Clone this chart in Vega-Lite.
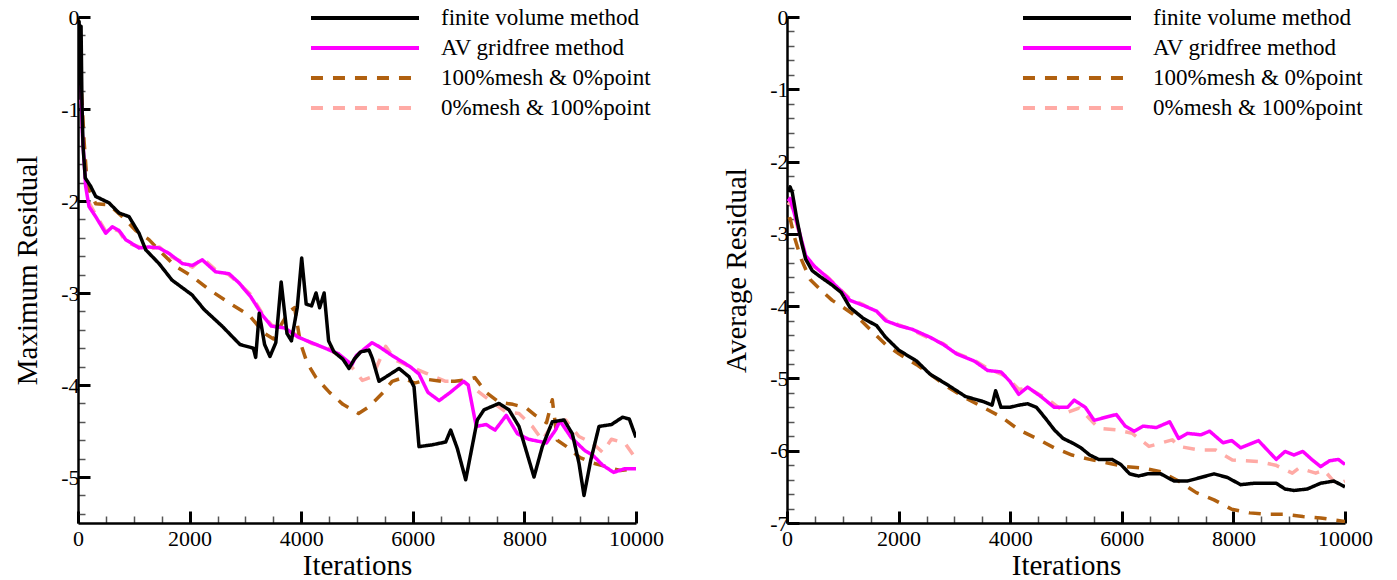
{
"$schema": "https://vega.github.io/schema/vega-lite/v6.json",
"background": "white",
"padding": {"left": 13, "top": 5, "right": 5, "bottom": 0},
"config": {
 "font": "Liberation Serif",
 "view": {"stroke": null},
 "axis": {"domainColor": "black", "domainWidth": 2.5, "labelFont": "Liberation Serif", "labelFontSize": 22, "labelColor": "black", "titleFont": "Liberation Serif", "titleFontSize": 29, "titleFontWeight": "normal", "titleColor": "black", "grid": false, "labelOverlap": false, "labelFlush": false, "labelBound": false},
 "legend": {"title": null, "symbolType": "M-5,0H5", "symbolSize": 467, "symbolStrokeWidth": 4, "labelFont": "Liberation Serif", "labelFontSize": 23, "labelColor": "black", "labelOffset": 63, "rowPadding": 5, "padding": 0, "labelLimit": 400}
},
"datasets": {
 "maxres": [
  {"s":"0%mesh & 100%point","x":0,"y":-0.65},{"s":"0%mesh & 100%point","x":45,"y":-0.62},{"s":"0%mesh & 100%point","x":80,"y":-1.2},{"s":"0%mesh & 100%point","x":140,"y":-1.8},{"s":"0%mesh & 100%point","x":200,"y":-2.02},{"s":"0%mesh & 100%point","x":320,"y":-2.15},{"s":"0%mesh & 100%point","x":500,"y":-2.33},{"s":"0%mesh & 100%point","x":620,"y":-2.3},{"s":"0%mesh & 100%point","x":740,"y":-2.33},{"s":"0%mesh & 100%point","x":860,"y":-2.45},{"s":"0%mesh & 100%point","x":1100,"y":-2.5},{"s":"0%mesh & 100%point","x":1280,"y":-2.52},{"s":"0%mesh & 100%point","x":1460,"y":-2.5},{"s":"0%mesh & 100%point","x":1640,"y":-2.6},{"s":"0%mesh & 100%point","x":1870,"y":-2.66},{"s":"0%mesh & 100%point","x":2050,"y":-2.72},{"s":"0%mesh & 100%point","x":2230,"y":-2.62},{"s":"0%mesh & 100%point","x":2470,"y":-2.75},{"s":"0%mesh & 100%point","x":2700,"y":-2.8},{"s":"0%mesh & 100%point","x":2890,"y":-2.9},{"s":"0%mesh & 100%point","x":3100,"y":-3.02},{"s":"0%mesh & 100%point","x":3300,"y":-3.22},{"s":"0%mesh & 100%point","x":3470,"y":-3.35},{"s":"0%mesh & 100%point","x":3700,"y":-3.4},{"s":"0%mesh & 100%point","x":3950,"y":-3.46},{"s":"0%mesh & 100%point","x":4190,"y":-3.55},{"s":"0%mesh & 100%point","x":4430,"y":-3.58},{"s":"0%mesh & 100%point","x":4670,"y":-3.68},{"s":"0%mesh & 100%point","x":4900,"y":-3.8},{"s":"0%mesh & 100%point","x":5096,"y":-3.95},{"s":"0%mesh & 100%point","x":5275,"y":-3.91},{"s":"0%mesh & 100%point","x":5514,"y":-3.58},{"s":"0%mesh & 100%point","x":5693,"y":-3.73},{"s":"0%mesh & 100%point","x":5873,"y":-3.78},{"s":"0%mesh & 100%point","x":6231,"y":-3.87},{"s":"0%mesh & 100%point","x":6589,"y":-3.96},{"s":"0%mesh & 100%point","x":6888,"y":-3.96},{"s":"0%mesh & 100%point","x":7127,"y":-4.05},{"s":"0%mesh & 100%point","x":7366,"y":-4.16},{"s":"0%mesh & 100%point","x":7664,"y":-4.29},{"s":"0%mesh & 100%point","x":7903,"y":-4.31},{"s":"0%mesh & 100%point","x":8142,"y":-4.45},{"s":"0%mesh & 100%point","x":8321,"y":-4.6},{"s":"0%mesh & 100%point","x":8500,"y":-4.43},{"s":"0%mesh & 100%point","x":8739,"y":-4.38},{"s":"0%mesh & 100%point","x":8978,"y":-4.56},{"s":"0%mesh & 100%point","x":9217,"y":-4.63},{"s":"0%mesh & 100%point","x":9399,"y":-4.73},{"s":"0%mesh & 100%point","x":9559,"y":-4.59},{"s":"0%mesh & 100%point","x":9799,"y":-4.63},{"s":"0%mesh & 100%point","x":9960,"y":-4.77},
  {"s":"100%mesh & 0%point","x":0,"y":-0.6},{"s":"100%mesh & 0%point","x":48,"y":-0.65},{"s":"100%mesh & 0%point","x":108,"y":-1.34},{"s":"100%mesh & 0%point","x":167,"y":-1.84},{"s":"100%mesh & 0%point","x":317,"y":-2.03},{"s":"100%mesh & 0%point","x":555,"y":-2.04},{"s":"100%mesh & 0%point","x":794,"y":-2.17},{"s":"100%mesh & 0%point","x":1034,"y":-2.32},{"s":"100%mesh & 0%point","x":1272,"y":-2.42},{"s":"100%mesh & 0%point","x":1511,"y":-2.57},{"s":"100%mesh & 0%point","x":1750,"y":-2.71},{"s":"100%mesh & 0%point","x":2049,"y":-2.82},{"s":"100%mesh & 0%point","x":2342,"y":-2.96},{"s":"100%mesh & 0%point","x":2742,"y":-3.12},{"s":"100%mesh & 0%point","x":3063,"y":-3.24},{"s":"100%mesh & 0%point","x":3344,"y":-3.44},{"s":"100%mesh & 0%point","x":3504,"y":-3.5},{"s":"100%mesh & 0%point","x":3665,"y":-3.32},{"s":"100%mesh & 0%point","x":3785,"y":-3.2},{"s":"100%mesh & 0%point","x":3881,"y":-3.16},{"s":"100%mesh & 0%point","x":3985,"y":-3.54},{"s":"100%mesh & 0%point","x":4106,"y":-3.76},{"s":"100%mesh & 0%point","x":4266,"y":-3.92},{"s":"100%mesh & 0%point","x":4507,"y":-4.08},{"s":"100%mesh & 0%point","x":4747,"y":-4.21},{"s":"100%mesh & 0%point","x":5028,"y":-4.31},{"s":"100%mesh & 0%point","x":5229,"y":-4.23},{"s":"100%mesh & 0%point","x":5469,"y":-4.08},{"s":"100%mesh & 0%point","x":5630,"y":-3.96},{"s":"100%mesh & 0%point","x":5830,"y":-3.92},{"s":"100%mesh & 0%point","x":6030,"y":-3.98},{"s":"100%mesh & 0%point","x":6271,"y":-3.94},{"s":"100%mesh & 0%point","x":6512,"y":-3.96},{"s":"100%mesh & 0%point","x":6752,"y":-3.96},{"s":"100%mesh & 0%point","x":6993,"y":-3.94},{"s":"100%mesh & 0%point","x":7113,"y":-3.92},{"s":"100%mesh & 0%point","x":7314,"y":-4.08},{"s":"100%mesh & 0%point","x":7554,"y":-4.19},{"s":"100%mesh & 0%point","x":7795,"y":-4.21},{"s":"100%mesh & 0%point","x":8035,"y":-4.25},{"s":"100%mesh & 0%point","x":8196,"y":-4.33},{"s":"100%mesh & 0%point","x":8396,"y":-4.41},{"s":"100%mesh & 0%point","x":8500,"y":-4.16},{"s":"100%mesh & 0%point","x":8590,"y":-4.6},{"s":"100%mesh & 0%point","x":8757,"y":-4.67},{"s":"100%mesh & 0%point","x":8998,"y":-4.79},{"s":"100%mesh & 0%point","x":9238,"y":-4.85},{"s":"100%mesh & 0%point","x":9479,"y":-4.89},{"s":"100%mesh & 0%point","x":9719,"y":-4.93},{"s":"100%mesh & 0%point","x":9960,"y":-4.91},
  {"s":"AV gridfree method","x":40,"y":-0.6},{"s":"AV gridfree method","x":60,"y":-0.9},{"s":"AV gridfree method","x":78,"y":-1.26},{"s":"AV gridfree method","x":137,"y":-1.84},{"s":"AV gridfree method","x":197,"y":-2.06},{"s":"AV gridfree method","x":317,"y":-2.17},{"s":"AV gridfree method","x":496,"y":-2.35},{"s":"AV gridfree method","x":615,"y":-2.28},{"s":"AV gridfree method","x":735,"y":-2.32},{"s":"AV gridfree method","x":855,"y":-2.42},{"s":"AV gridfree method","x":1093,"y":-2.51},{"s":"AV gridfree method","x":1272,"y":-2.5},{"s":"AV gridfree method","x":1452,"y":-2.51},{"s":"AV gridfree method","x":1631,"y":-2.57},{"s":"AV gridfree method","x":1870,"y":-2.68},{"s":"AV gridfree method","x":2049,"y":-2.7},{"s":"AV gridfree method","x":2228,"y":-2.64},{"s":"AV gridfree method","x":2467,"y":-2.77},{"s":"AV gridfree method","x":2706,"y":-2.79},{"s":"AV gridfree method","x":2885,"y":-2.89},{"s":"AV gridfree method","x":3095,"y":-3.04},{"s":"AV gridfree method","x":3304,"y":-3.24},{"s":"AV gridfree method","x":3464,"y":-3.36},{"s":"AV gridfree method","x":3705,"y":-3.38},{"s":"AV gridfree method","x":3945,"y":-3.48},{"s":"AV gridfree method","x":4186,"y":-3.54},{"s":"AV gridfree method","x":4427,"y":-3.6},{"s":"AV gridfree method","x":4667,"y":-3.66},{"s":"AV gridfree method","x":4908,"y":-3.78},{"s":"AV gridfree method","x":4988,"y":-3.68},{"s":"AV gridfree method","x":5269,"y":-3.54},{"s":"AV gridfree method","x":5389,"y":-3.58},{"s":"AV gridfree method","x":5630,"y":-3.68},{"s":"AV gridfree method","x":5950,"y":-3.8},{"s":"AV gridfree method","x":6111,"y":-3.88},{"s":"AV gridfree method","x":6271,"y":-4.08},{"s":"AV gridfree method","x":6472,"y":-4.17},{"s":"AV gridfree method","x":6672,"y":-4.08},{"s":"AV gridfree method","x":6913,"y":-3.96},{"s":"AV gridfree method","x":6993,"y":-4.0},{"s":"AV gridfree method","x":7137,"y":-4.45},{"s":"AV gridfree method","x":7314,"y":-4.43},{"s":"AV gridfree method","x":7474,"y":-4.49},{"s":"AV gridfree method","x":7675,"y":-4.33},{"s":"AV gridfree method","x":7875,"y":-4.53},{"s":"AV gridfree method","x":8075,"y":-4.59},{"s":"AV gridfree method","x":8236,"y":-4.61},{"s":"AV gridfree method","x":8396,"y":-4.63},{"s":"AV gridfree method","x":8557,"y":-4.49},{"s":"AV gridfree method","x":8637,"y":-4.39},{"s":"AV gridfree method","x":8837,"y":-4.57},{"s":"AV gridfree method","x":9078,"y":-4.71},{"s":"AV gridfree method","x":9238,"y":-4.77},{"s":"AV gridfree method","x":9399,"y":-4.87},{"s":"AV gridfree method","x":9599,"y":-4.95},{"s":"AV gridfree method","x":9799,"y":-4.91},{"s":"AV gridfree method","x":10000,"y":-4.91},
  {"s":"finite volume method","x":0,"y":-0.9},{"s":"finite volume method","x":20,"y":-0.05},{"s":"finite volume method","x":40,"y":-0.6},{"s":"finite volume method","x":55,"y":-0.1},{"s":"finite volume method","x":70,"y":-0.9},{"s":"finite volume method","x":90,"y":-1.4},{"s":"finite volume method","x":130,"y":-1.75},{"s":"finite volume method","x":227,"y":-1.84},{"s":"finite volume method","x":317,"y":-1.95},{"s":"finite volume method","x":555,"y":-2.02},{"s":"finite volume method","x":735,"y":-2.13},{"s":"finite volume method","x":914,"y":-2.17},{"s":"finite volume method","x":1093,"y":-2.35},{"s":"finite volume method","x":1213,"y":-2.53},{"s":"finite volume method","x":1452,"y":-2.68},{"s":"finite volume method","x":1685,"y":-2.86},{"s":"finite volume method","x":2043,"y":-3.02},{"s":"finite volume method","x":2261,"y":-3.18},{"s":"finite volume method","x":2582,"y":-3.36},{"s":"finite volume method","x":2903,"y":-3.56},{"s":"finite volume method","x":3143,"y":-3.6},{"s":"finite volume method","x":3184,"y":-3.7},{"s":"finite volume method","x":3248,"y":-3.22},{"s":"finite volume method","x":3344,"y":-3.56},{"s":"finite volume method","x":3440,"y":-3.69},{"s":"finite volume method","x":3545,"y":-3.54},{"s":"finite volume method","x":3641,"y":-2.88},{"s":"finite volume method","x":3745,"y":-3.44},{"s":"finite volume method","x":3825,"y":-3.52},{"s":"finite volume method","x":3929,"y":-3.16},{"s":"finite volume method","x":4009,"y":-2.62},{"s":"finite volume method","x":4089,"y":-3.12},{"s":"finite volume method","x":4186,"y":-3.14},{"s":"finite volume method","x":4266,"y":-3.0},{"s":"finite volume method","x":4330,"y":-3.16},{"s":"finite volume method","x":4411,"y":-3.0},{"s":"finite volume method","x":4491,"y":-3.52},{"s":"finite volume method","x":4587,"y":-3.64},{"s":"finite volume method","x":4747,"y":-3.72},{"s":"finite volume method","x":4857,"y":-3.82},{"s":"finite volume method","x":4950,"y":-3.72},{"s":"finite volume method","x":5066,"y":-3.64},{"s":"finite volume method","x":5215,"y":-3.62},{"s":"finite volume method","x":5275,"y":-3.71},{"s":"finite volume method","x":5394,"y":-3.96},{"s":"finite volume method","x":5549,"y":-3.9},{"s":"finite volume method","x":5753,"y":-3.82},{"s":"finite volume method","x":5932,"y":-3.91},{"s":"finite volume method","x":6022,"y":-4.02},{"s":"finite volume method","x":6111,"y":-4.67},{"s":"finite volume method","x":6350,"y":-4.65},{"s":"finite volume method","x":6589,"y":-4.62},{"s":"finite volume method","x":6679,"y":-4.49},{"s":"finite volume method","x":6798,"y":-4.69},{"s":"finite volume method","x":6948,"y":-5.03},{"s":"finite volume method","x":7156,"y":-4.38},{"s":"finite volume method","x":7276,"y":-4.27},{"s":"finite volume method","x":7545,"y":-4.2},{"s":"finite volume method","x":7724,"y":-4.27},{"s":"finite volume method","x":7903,"y":-4.45},{"s":"finite volume method","x":8172,"y":-5.0},{"s":"finite volume method","x":8321,"y":-4.67},{"s":"finite volume method","x":8500,"y":-4.4},{"s":"finite volume method","x":8710,"y":-4.38},{"s":"finite volume method","x":8859,"y":-4.53},{"s":"finite volume method","x":8978,"y":-4.85},{"s":"finite volume method","x":9068,"y":-5.2},{"s":"finite volume method","x":9188,"y":-4.82},{"s":"finite volume method","x":9337,"y":-4.45},{"s":"finite volume method","x":9559,"y":-4.43},{"s":"finite volume method","x":9759,"y":-4.35},{"s":"finite volume method","x":9880,"y":-4.37},{"s":"finite volume method","x":10000,"y":-4.57}
 ],
 "avgres": [
  {"s":"0%mesh & 100%point","x":20,"y":-2.6},{"s":"0%mesh & 100%point","x":60,"y":-2.55},{"s":"0%mesh & 100%point","x":175,"y":-2.86},{"s":"0%mesh & 100%point","x":334,"y":-3.32},{"s":"0%mesh & 100%point","x":493,"y":-3.46},{"s":"0%mesh & 100%point","x":732,"y":-3.6},{"s":"0%mesh & 100%point","x":971,"y":-3.78},{"s":"0%mesh & 100%point","x":1130,"y":-3.9},{"s":"0%mesh & 100%point","x":1368,"y":-3.98},{"s":"0%mesh & 100%point","x":1607,"y":-4.08},{"s":"0%mesh & 100%point","x":1766,"y":-4.18},{"s":"0%mesh & 100%point","x":2005,"y":-4.26},{"s":"0%mesh & 100%point","x":2243,"y":-4.33},{"s":"0%mesh & 100%point","x":2562,"y":-4.45},{"s":"0%mesh & 100%point","x":2801,"y":-4.52},{"s":"0%mesh & 100%point","x":3039,"y":-4.65},{"s":"0%mesh & 100%point","x":3357,"y":-4.75},{"s":"0%mesh & 100%point","x":3596,"y":-4.86},{"s":"0%mesh & 100%point","x":3919,"y":-4.97},{"s":"0%mesh & 100%point","x":4153,"y":-5.15},{"s":"0%mesh & 100%point","x":4337,"y":-5.14},{"s":"0%mesh & 100%point","x":4695,"y":-5.3},{"s":"0%mesh & 100%point","x":4994,"y":-5.48},{"s":"0%mesh & 100%point","x":5233,"y":-5.41},{"s":"0%mesh & 100%point","x":5591,"y":-5.69},{"s":"0%mesh & 100%point","x":5890,"y":-5.71},{"s":"0%mesh & 100%point","x":6188,"y":-5.76},{"s":"0%mesh & 100%point","x":6487,"y":-5.94},{"s":"0%mesh & 100%point","x":6905,"y":-5.85},{"s":"0%mesh & 100%point","x":7025,"y":-5.94},{"s":"0%mesh & 100%point","x":7384,"y":-5.99},{"s":"0%mesh & 100%point","x":7683,"y":-5.99},{"s":"0%mesh & 100%point","x":7981,"y":-6.13},{"s":"0%mesh & 100%point","x":8459,"y":-6.15},{"s":"0%mesh & 100%point","x":8758,"y":-6.2},{"s":"0%mesh & 100%point","x":9056,"y":-6.31},{"s":"0%mesh & 100%point","x":9176,"y":-6.24},{"s":"0%mesh & 100%point","x":9475,"y":-6.31},{"s":"0%mesh & 100%point","x":9624,"y":-6.27},{"s":"0%mesh & 100%point","x":9773,"y":-6.4},{"s":"0%mesh & 100%point","x":9862,"y":-6.47},{"s":"0%mesh & 100%point","x":10000,"y":-6.42},
  {"s":"100%mesh & 0%point","x":20,"y":-2.8},{"s":"100%mesh & 0%point","x":56,"y":-2.79},{"s":"100%mesh & 0%point","x":135,"y":-3.05},{"s":"100%mesh & 0%point","x":255,"y":-3.35},{"s":"100%mesh & 0%point","x":414,"y":-3.63},{"s":"100%mesh & 0%point","x":652,"y":-3.81},{"s":"100%mesh & 0%point","x":811,"y":-3.92},{"s":"100%mesh & 0%point","x":1050,"y":-4.04},{"s":"100%mesh & 0%point","x":1289,"y":-4.17},{"s":"100%mesh & 0%point","x":1527,"y":-4.35},{"s":"100%mesh & 0%point","x":1766,"y":-4.53},{"s":"100%mesh & 0%point","x":2005,"y":-4.66},{"s":"100%mesh & 0%point","x":2323,"y":-4.81},{"s":"100%mesh & 0%point","x":2562,"y":-4.94},{"s":"100%mesh & 0%point","x":2880,"y":-5.12},{"s":"100%mesh & 0%point","x":3198,"y":-5.27},{"s":"100%mesh & 0%point","x":3516,"y":-5.4},{"s":"100%mesh & 0%point","x":3835,"y":-5.53},{"s":"100%mesh & 0%point","x":4153,"y":-5.71},{"s":"100%mesh & 0%point","x":4471,"y":-5.83},{"s":"100%mesh & 0%point","x":4789,"y":-5.96},{"s":"100%mesh & 0%point","x":5107,"y":-6.06},{"s":"100%mesh & 0%point","x":5426,"y":-6.12},{"s":"100%mesh & 0%point","x":5744,"y":-6.17},{"s":"100%mesh & 0%point","x":6062,"y":-6.22},{"s":"100%mesh & 0%point","x":6380,"y":-6.24},{"s":"100%mesh & 0%point","x":6698,"y":-6.29},{"s":"100%mesh & 0%point","x":7017,"y":-6.42},{"s":"100%mesh & 0%point","x":7335,"y":-6.58},{"s":"100%mesh & 0%point","x":7653,"y":-6.68},{"s":"100%mesh & 0%point","x":7972,"y":-6.81},{"s":"100%mesh & 0%point","x":8290,"y":-6.86},{"s":"100%mesh & 0%point","x":8608,"y":-6.88},{"s":"100%mesh & 0%point","x":8926,"y":-6.88},{"s":"100%mesh & 0%point","x":9244,"y":-6.91},{"s":"100%mesh & 0%point","x":9563,"y":-6.93},{"s":"100%mesh & 0%point","x":10000,"y":-6.98},
  {"s":"AV gridfree method","x":20,"y":-2.55},{"s":"AV gridfree method","x":56,"y":-2.51},{"s":"AV gridfree method","x":175,"y":-2.84},{"s":"AV gridfree method","x":334,"y":-3.3},{"s":"AV gridfree method","x":493,"y":-3.45},{"s":"AV gridfree method","x":732,"y":-3.61},{"s":"AV gridfree method","x":971,"y":-3.79},{"s":"AV gridfree method","x":1130,"y":-3.92},{"s":"AV gridfree method","x":1368,"y":-3.99},{"s":"AV gridfree method","x":1607,"y":-4.07},{"s":"AV gridfree method","x":1766,"y":-4.2},{"s":"AV gridfree method","x":2005,"y":-4.27},{"s":"AV gridfree method","x":2243,"y":-4.32},{"s":"AV gridfree method","x":2562,"y":-4.43},{"s":"AV gridfree method","x":2801,"y":-4.53},{"s":"AV gridfree method","x":3039,"y":-4.66},{"s":"AV gridfree method","x":3357,"y":-4.76},{"s":"AV gridfree method","x":3596,"y":-4.89},{"s":"AV gridfree method","x":3835,"y":-4.91},{"s":"AV gridfree method","x":3994,"y":-5.04},{"s":"AV gridfree method","x":4153,"y":-5.22},{"s":"AV gridfree method","x":4312,"y":-5.12},{"s":"AV gridfree method","x":4551,"y":-5.25},{"s":"AV gridfree method","x":4789,"y":-5.4},{"s":"AV gridfree method","x":5028,"y":-5.4},{"s":"AV gridfree method","x":5147,"y":-5.3},{"s":"AV gridfree method","x":5346,"y":-5.4},{"s":"AV gridfree method","x":5505,"y":-5.58},{"s":"AV gridfree method","x":5744,"y":-5.53},{"s":"AV gridfree method","x":5903,"y":-5.5},{"s":"AV gridfree method","x":6062,"y":-5.66},{"s":"AV gridfree method","x":6221,"y":-5.73},{"s":"AV gridfree method","x":6380,"y":-5.66},{"s":"AV gridfree method","x":6619,"y":-5.68},{"s":"AV gridfree method","x":6858,"y":-5.6},{"s":"AV gridfree method","x":7017,"y":-5.83},{"s":"AV gridfree method","x":7176,"y":-5.76},{"s":"AV gridfree method","x":7415,"y":-5.78},{"s":"AV gridfree method","x":7574,"y":-5.73},{"s":"AV gridfree method","x":7813,"y":-5.89},{"s":"AV gridfree method","x":7972,"y":-5.86},{"s":"AV gridfree method","x":8130,"y":-5.96},{"s":"AV gridfree method","x":8290,"y":-5.91},{"s":"AV gridfree method","x":8449,"y":-5.86},{"s":"AV gridfree method","x":8608,"y":-5.99},{"s":"AV gridfree method","x":8767,"y":-6.12},{"s":"AV gridfree method","x":8926,"y":-6.01},{"s":"AV gridfree method","x":9085,"y":-6.06},{"s":"AV gridfree method","x":9244,"y":-6.01},{"s":"AV gridfree method","x":9403,"y":-6.12},{"s":"AV gridfree method","x":9563,"y":-6.22},{"s":"AV gridfree method","x":9722,"y":-6.14},{"s":"AV gridfree method","x":9881,"y":-6.12},{"s":"AV gridfree method","x":10000,"y":-6.19},
  {"s":"finite volume method","x":20,"y":-2.42},{"s":"finite volume method","x":56,"y":-2.35},{"s":"finite volume method","x":95,"y":-2.43},{"s":"finite volume method","x":175,"y":-2.79},{"s":"finite volume method","x":255,"y":-3.1},{"s":"finite volume method","x":334,"y":-3.35},{"s":"finite volume method","x":453,"y":-3.51},{"s":"finite volume method","x":573,"y":-3.58},{"s":"finite volume method","x":811,"y":-3.71},{"s":"finite volume method","x":971,"y":-3.81},{"s":"finite volume method","x":1130,"y":-4.02},{"s":"finite volume method","x":1368,"y":-4.17},{"s":"finite volume method","x":1607,"y":-4.27},{"s":"finite volume method","x":1766,"y":-4.43},{"s":"finite volume method","x":2005,"y":-4.61},{"s":"finite volume method","x":2323,"y":-4.76},{"s":"finite volume method","x":2562,"y":-4.94},{"s":"finite volume method","x":2880,"y":-5.09},{"s":"finite volume method","x":3198,"y":-5.25},{"s":"finite volume method","x":3516,"y":-5.32},{"s":"finite volume method","x":3675,"y":-5.37},{"s":"finite volume method","x":3739,"y":-5.17},{"s":"finite volume method","x":3835,"y":-5.4},{"s":"finite volume method","x":3994,"y":-5.4},{"s":"finite volume method","x":4153,"y":-5.37},{"s":"finite volume method","x":4312,"y":-5.35},{"s":"finite volume method","x":4471,"y":-5.4},{"s":"finite volume method","x":4630,"y":-5.55},{"s":"finite volume method","x":4789,"y":-5.71},{"s":"finite volume method","x":4948,"y":-5.83},{"s":"finite volume method","x":5107,"y":-5.89},{"s":"finite volume method","x":5267,"y":-5.96},{"s":"finite volume method","x":5426,"y":-6.06},{"s":"finite volume method","x":5585,"y":-6.12},{"s":"finite volume method","x":5823,"y":-6.12},{"s":"finite volume method","x":5982,"y":-6.19},{"s":"finite volume method","x":6141,"y":-6.32},{"s":"finite volume method","x":6301,"y":-6.35},{"s":"finite volume method","x":6460,"y":-6.32},{"s":"finite volume method","x":6698,"y":-6.32},{"s":"finite volume method","x":6937,"y":-6.42},{"s":"finite volume method","x":7176,"y":-6.42},{"s":"finite volume method","x":7415,"y":-6.37},{"s":"finite volume method","x":7653,"y":-6.32},{"s":"finite volume method","x":7892,"y":-6.37},{"s":"finite volume method","x":8130,"y":-6.47},{"s":"finite volume method","x":8369,"y":-6.45},{"s":"finite volume method","x":8608,"y":-6.45},{"s":"finite volume method","x":8767,"y":-6.45},{"s":"finite volume method","x":8926,"y":-6.53},{"s":"finite volume method","x":9085,"y":-6.55},{"s":"finite volume method","x":9324,"y":-6.53},{"s":"finite volume method","x":9563,"y":-6.45},{"s":"finite volume method","x":9801,"y":-6.42},{"s":"finite volume method","x":10000,"y":-6.5}
 ]
},
"spacing": 151,
"bounds": "flush",
"resolve": {"scale": {"color": "independent", "strokeDash": "independent"}, "legend": {"color": "independent", "strokeDash": "independent"}},
"hconcat": [
 {
  "width": 558, "height": 506,
  "data": {"name": "maxres"},
  "mark": {"type": "line", "strokeWidth": 3.5, "strokeCap": "butt", "strokeJoin": "round", "clip": true},
  "encoding": {
   "x": {"field": "x", "type": "quantitative", "scale": {"domain": [0, 10000], "nice": false, "zero": false},
    "axis": {"title": "Iterations", "values": [0,500,1000,1500,2000,2500,3000,3500,4000,4500,5000,5500,6000,6500,7000,7500,8000,8500,9000,9500,10000],
     "labelExpr": "datum.value % 2000 === 0 ? format(datum.value, 'd') : ''",
     "tickSize": {"condition": {"test": "datum.value % 2000 === 0", "value": -12}, "value": -7},
     "tickWidth": {"condition": {"test": "datum.value % 2000 === 0", "value": 3}, "value": 1.5},
     "tickColor": {"condition": {"test": "datum.value % 2000 === 0", "value": "black"}, "value": "#555555"},
     "labelPadding": 17, "titleBaseline": "alphabetic", "titleY": 51}},
   "y": {"field": "y", "type": "quantitative", "scale": {"domain": [-5.5, 0], "nice": false, "zero": false},
    "axis": {"title": "Maximum Residual", "values": [0,-0.2,-0.4,-0.6,-0.8,-1,-1.2,-1.4,-1.6,-1.8,-2,-2.2,-2.4,-2.6,-2.8,-3,-3.2,-3.4,-3.6,-3.8,-4,-4.2,-4.4,-4.6,-4.8,-5,-5.2,-5.4],
     "labelExpr": "abs(datum.value - round(datum.value)) < 0.001 ? '' + round(datum.value) : ''",
     "tickSize": {"condition": {"test": "abs(datum.value - round(datum.value)) < 0.001", "value": -12}, "value": -7},
     "tickWidth": {"condition": {"test": "abs(datum.value - round(datum.value)) < 0.001", "value": 3}, "value": 1.5},
     "tickColor": {"condition": {"test": "abs(datum.value - round(datum.value)) < 0.001", "value": "black"}, "value": "#555555"},
     "labelPadding": 11, "titlePadding": 18}},
   "color": {"field": "s", "type": "nominal", "scale": {"domain": ["finite volume method", "AV gridfree method", "100%mesh & 0%point", "0%mesh & 100%point"], "range": ["#000000", "#ff00ff", "#b0600f", "#ffaaa5"]},
    "legend": {"orient": "none", "legendX": 274, "legendY": -12}},
   "strokeDash": {"field": "s", "type": "nominal", "scale": {"domain": ["finite volume method", "AV gridfree method", "100%mesh & 0%point", "0%mesh & 100%point"], "range": [[1, 0], [1, 0], [12, 10], [12, 10]]},
    "legend": {"orient": "none", "legendX": 274, "legendY": -12}}
  }
 },
 {
  "width": 558, "height": 506,
  "data": {"name": "avgres"},
  "mark": {"type": "line", "strokeWidth": 3.5, "strokeCap": "butt", "strokeJoin": "round", "clip": true},
  "encoding": {
   "x": {"field": "x", "type": "quantitative", "scale": {"domain": [0, 10000], "nice": false, "zero": false},
    "axis": {"title": "Iterations", "values": [0,500,1000,1500,2000,2500,3000,3500,4000,4500,5000,5500,6000,6500,7000,7500,8000,8500,9000,9500,10000],
     "labelExpr": "datum.value % 2000 === 0 ? format(datum.value, 'd') : ''",
     "tickSize": {"condition": {"test": "datum.value % 2000 === 0", "value": -12}, "value": -7},
     "tickWidth": {"condition": {"test": "datum.value % 2000 === 0", "value": 3}, "value": 1.5},
     "tickColor": {"condition": {"test": "datum.value % 2000 === 0", "value": "black"}, "value": "#555555"},
     "labelPadding": 17, "titleBaseline": "alphabetic", "titleY": 51}},
   "y": {"field": "y", "type": "quantitative", "scale": {"domain": [-7, 0], "nice": false, "zero": false},
    "axis": {"title": "Average Residual", "values": [0,-0.2,-0.4,-0.6,-0.8,-1,-1.2,-1.4,-1.6,-1.8,-2,-2.2,-2.4,-2.6,-2.8,-3,-3.2,-3.4,-3.6,-3.8,-4,-4.2,-4.4,-4.6,-4.8,-5,-5.2,-5.4,-5.6,-5.8,-6,-6.2,-6.4,-6.6,-6.8,-7],
     "labelExpr": "abs(datum.value - round(datum.value)) < 0.001 ? '' + round(datum.value) : ''",
     "tickSize": {"condition": {"test": "abs(datum.value - round(datum.value)) < 0.001", "value": -12}, "value": -7},
     "tickWidth": {"condition": {"test": "abs(datum.value - round(datum.value)) < 0.001", "value": 3}, "value": 1.5},
     "tickColor": {"condition": {"test": "abs(datum.value - round(datum.value)) < 0.001", "value": "black"}, "value": "#555555"},
     "labelPadding": 11, "titlePadding": 18}},
   "color": {"field": "s", "type": "nominal", "scale": {"domain": ["finite volume method", "AV gridfree method", "100%mesh & 0%point", "0%mesh & 100%point"], "range": ["#000000", "#ff00ff", "#b0600f", "#ffaaa5"]},
    "legend": {"orient": "none", "legendX": 277, "legendY": -12}},
   "strokeDash": {"field": "s", "type": "nominal", "scale": {"domain": ["finite volume method", "AV gridfree method", "100%mesh & 0%point", "0%mesh & 100%point"], "range": [[1, 0], [1, 0], [12, 10], [12, 10]]},
    "legend": {"orient": "none", "legendX": 277, "legendY": -12}}
  }
 }
]
}
